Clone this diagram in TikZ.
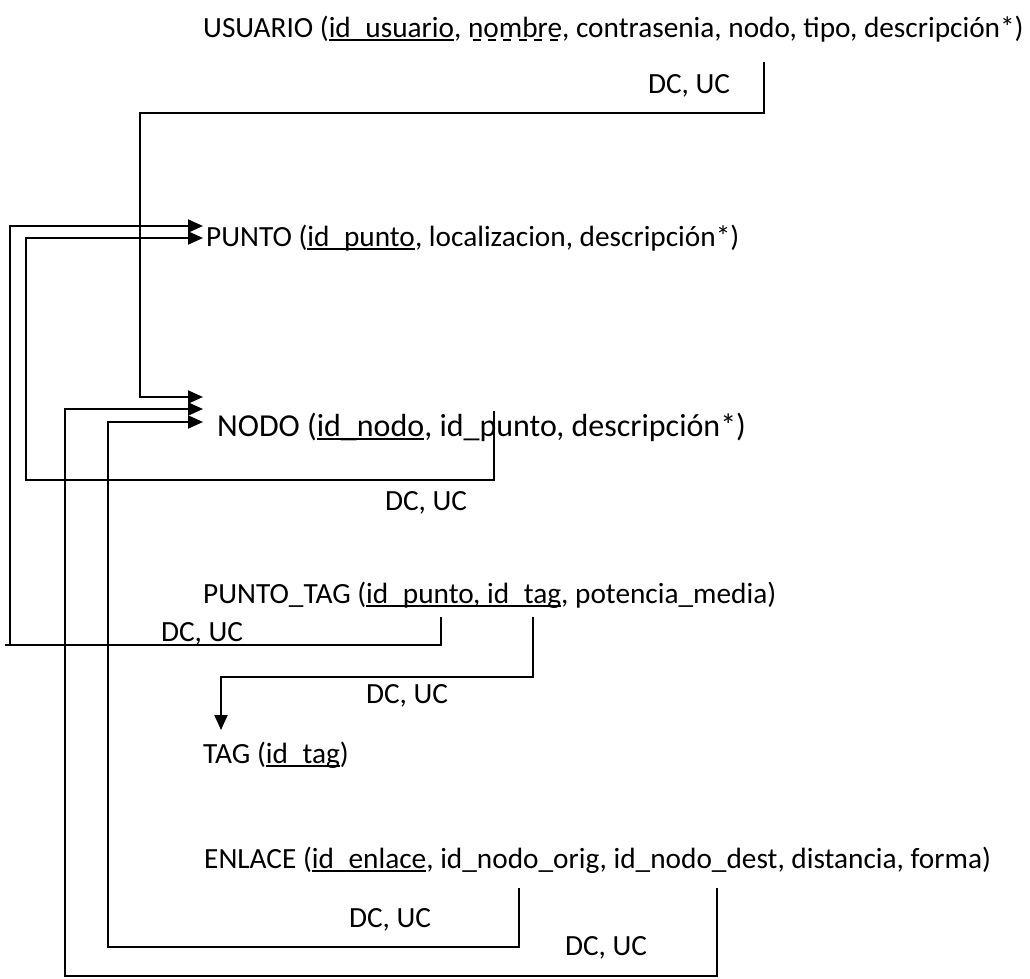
\documentclass[tikz,border=0pt]{standalone}
\usepackage{fontspec}
\setmainfont{Carlito}
\usetikzlibrary{arrows.meta}
\newsavebox{\ulbox}
\newcommand{\myul}[1]{\sbox{\ulbox}{#1}\rlap{\rule[-3.5pt]{\wd\ulbox}{1.8pt}}\usebox{\ulbox}}
\newcommand{\mydashul}[1]{\sbox{\ulbox}{#1}\rlap{\raisebox{-4pt}{\hbox to \wd\ulbox{\xleaders\hbox to 13.5pt{\hfil\rule{8pt}{1.8pt}\hfil}\hfill}}}\usebox{\ulbox}}
\begin{document}
\begin{tikzpicture}[x=1pt,y=-1pt,
  conn/.style={line width=2pt},
  arr/.style={conn,-{Triangle[length=15pt,width=13pt]}},
  rel/.style={inner sep=0pt,anchor=base west,font=\fontsize{29.3}{34}\selectfont},
  bigrel/.style={rel,font=\fontsize{32}{38}\selectfont},
  lab/.style={inner sep=0pt,anchor=base west,font=\fontsize{29.3}{34}\selectfont}]
\useasboundingbox (0,0) rectangle (1030,978);

% relations
\node[rel] (usuario) at (203,37) {USUARIO (\myul{id\_usuario}, \mydashul{nombre}, contrasenia, nodo, tipo, descripción*)};
\node[rel] (punto) at (206,246) {PUNTO (\myul{id\_punto}, localizacion, descripción*)};
\node[bigrel] (nodo) at (217,436) {NODO (\myul{id\_nodo}, id\_punto, descripción*)};
\node[rel] (puntotag) at (203,603) {PUNTO\_TAG (\myul{id\_punto, id\_tag}, potencia\_media)};
\node[rel] (tag) at (203,763) {TAG (\myul{id\_tag})};
\node[rel] (enlace) at (204,868) {ENLACE (\myul{id\_enlace}, id\_nodo\_orig, id\_nodo\_dest, distancia, forma)};

% labels
\node[lab] (l1) at (648,93) {DC, UC};
\node[lab] (l2) at (385,510) {DC, UC};
\node[lab] (l3) at (161,641) {DC, UC};
\node[lab] (l4) at (366,703) {DC, UC};
\node[lab] (l5) at (349,927) {DC, UC};
\node[lab] (l6) at (565,955) {DC, UC};

% attachment points
\coordinate (uA) at (764,62);
\coordinate (nA) at (494,411);
\coordinate (ptA) at (441,617);
\coordinate (ptB) at (533,617);
\coordinate (eA) at (519,888);
\coordinate (eB) at (717,888);
\coordinate (p1) at (203,226);
\coordinate (p2) at (203,238);
\coordinate (n1) at (203,397);
\coordinate (n2) at (203,409);
\coordinate (n3) at (203,422);
\coordinate (t1) at (221,730);

% connectors
\draw[arr] (uA) |- (140,113) |- (n1);
\draw[arr] (nA) |- (26,480) |- (p2);
\draw[arr] (ptA) |- (5,645) (10,645) |- (p1);
\draw[arr] (ptB) |- (221,677) -- (t1);
\draw[arr] (eA) |- (108,947) |- (n3);
\draw[arr] (eB) |- (65,976) |- (n2);
\end{tikzpicture}
\end{document}
